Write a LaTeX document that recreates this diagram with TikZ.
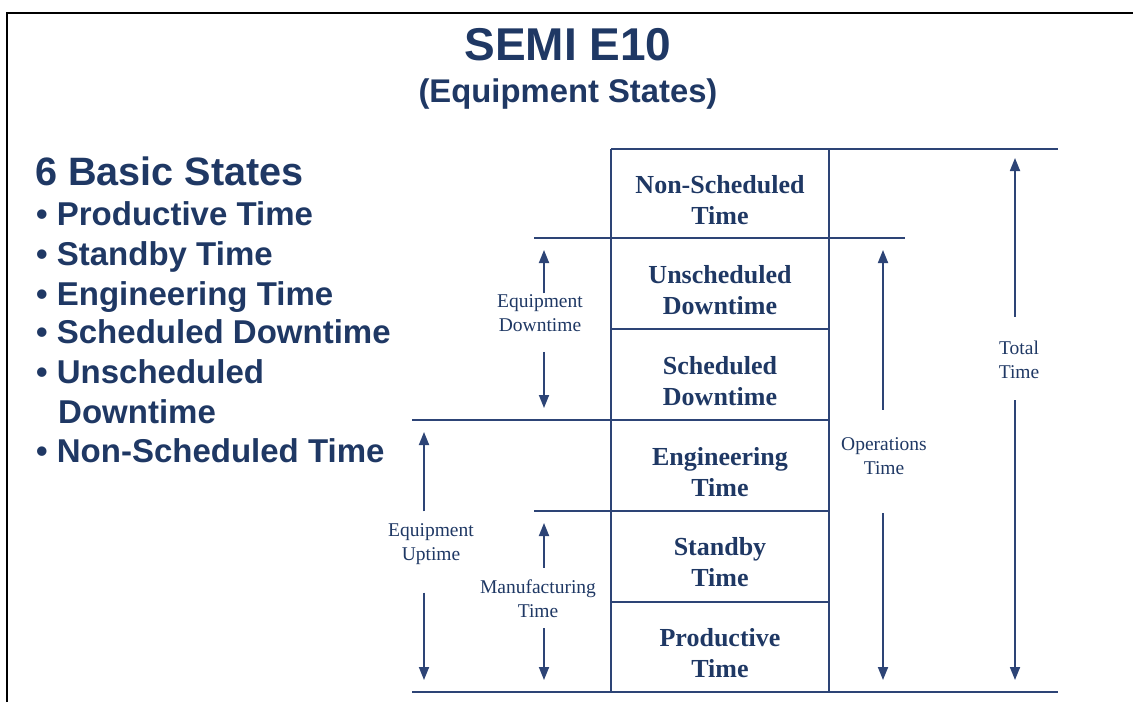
\documentclass[tikz,border=0pt]{standalone}
\usepackage{fontspec}
\setmainfont{Liberation Serif}
\newfontfamily\headfont{Liberation Sans}
\usetikzlibrary{arrows.meta}
\definecolor{semiblue}{RGB}{31,56,100}
\definecolor{semiline}{RGB}{45,68,118}
\tikzset{
    head/.style={text=semiblue, inner sep=0pt},
    state/.style={font=\fontsize{26}{31}\selectfont\bfseries, text=semiblue, align=center},
    span/.style={font=\fontsize{19.5}{24}\selectfont, text=semiblue, align=center, inner sep=1pt},
    grid/.style={draw=semiline, line width=1.7pt},
    arr/.style={semiline, line width=1.8pt, -{Triangle[width=10pt,length=13pt]}}
}
\begin{document}
\begin{tikzpicture}[x=1pt, y=-1pt]
    \useasboundingbox (0,0) rectangle (1133,702);
    \draw[line width=2.5pt] (7,702) -- (7,13) -- (1133,13);

    \node[head, font=\headfont\bfseries\fontsize{46}{55}\selectfont, anchor=base] (title) at (568,60) {SEMI E10};
    \node[head, font=\headfont\bfseries\fontsize{32.8}{38}\selectfont, anchor=base] (subtitle) at (568,102) {(Equipment States)};

    \node[head, font=\headfont\bfseries\fontsize{39.6}{46}\selectfont, anchor=base west] (basic) at (35,185) {6 Basic States};
    \node[head, font=\headfont\bfseries\fontsize{33}{39}\selectfont, anchor=base west] (b1) at (36,225) {• Productive Time};
    \node[head, font=\headfont\bfseries\fontsize{33}{39}\selectfont, anchor=base west] (b2) at (36,265) {• Standby Time};
    \node[head, font=\headfont\bfseries\fontsize{33}{39}\selectfont, anchor=base west] (b3) at (36,305) {• Engineering Time};
    \node[head, font=\headfont\bfseries\fontsize{33}{39}\selectfont, anchor=base west] (b4) at (36,343) {• Scheduled Downtime};
    \node[head, font=\headfont\bfseries\fontsize{33}{39}\selectfont, anchor=base west] (b5) at (36,383) {• Unscheduled};
    \node[head, font=\headfont\bfseries\fontsize{33}{39}\selectfont, anchor=base west] (b5b) at (58,423) {Downtime};
    \node[head, font=\headfont\bfseries\fontsize{33}{39}\selectfont, anchor=base west] (b6) at (36,462) {• Non-Scheduled Time};

    \draw[grid] (611,149) -- (1058,149);
    \draw[grid] (534,238) -- (905,238);
    \draw[grid] (611,329) -- (829,329);
    \draw[grid] (412,420) -- (829,420);
    \draw[grid] (534,511) -- (829,511);
    \draw[grid] (611,602) -- (829,602);
    \draw[grid] (412,692) -- (1058,692);
    \draw[grid] (611,149) -- (611,692);
    \draw[grid] (829,149) -- (829,692);

    \node[state] (nonsched) at (720,200) {Non-Scheduled\\Time};
    \node[state] (unsched) at (720,290) {Unscheduled\\Downtime};
    \node[state] (sched) at (720,381) {Scheduled\\Downtime};
    \node[state] (eng) at (720,472) {Engineering\\Time};
    \node[state] (standby) at (720,562.5) {Standby\\Time};
    \node[state] (prod) at (720,653) {Productive\\Time};

    \node[span] (eqdown) at (540,313) {Equipment\\Downtime};
    \node[span] (opstime) at (884,456.5) {Operations\\Time};
    \node[span] (total) at (1019,360) {Total\\Time};
    \node[span] (equp) at (431,544) {Equipment\\Uptime};
    \node[span] (manuf) at (538,599) {Manufacturing\\Time};

    \coordinate (edtop) at (544,250);
    \coordinate (edbot) at (544,408);
    \coordinate (optop) at (883,250);
    \coordinate (opbot) at (883,680);
    \coordinate (tttop) at (1015,158);
    \coordinate (ttbot) at (1015,680);
    \coordinate (eutop) at (424,432);
    \coordinate (eubot) at (424,680);
    \coordinate (mftop) at (544,523);
    \coordinate (mfbot) at (544,680);

    \draw[arr] (eqdown.north -| edtop) -- (edtop);
    \draw[arr, shorten <=19pt] (eqdown.south -| edbot) -- (edbot);
    \draw[arr, shorten <=27pt] (opstime.north -| optop) -- (optop);
    \draw[arr, shorten <=37pt] (opstime.south -| opbot) -- (opbot);
    \draw[arr, shorten <=23pt] (total.north -| tttop) -- (tttop);
    \draw[arr, shorten <=20pt] (total.south -| ttbot) -- (ttbot);
    \draw[arr, shorten <=11pt] (equp.north -| eutop) -- (eutop);
    \draw[arr, shorten <=27pt] (equp.south -| eubot) -- (eubot);
    \draw[arr, shorten <=11pt] (manuf.north -| mftop) -- (mftop);
    \draw[arr, shorten <=9pt] (manuf.south -| mfbot) -- (mfbot);
\end{tikzpicture}
\end{document}
